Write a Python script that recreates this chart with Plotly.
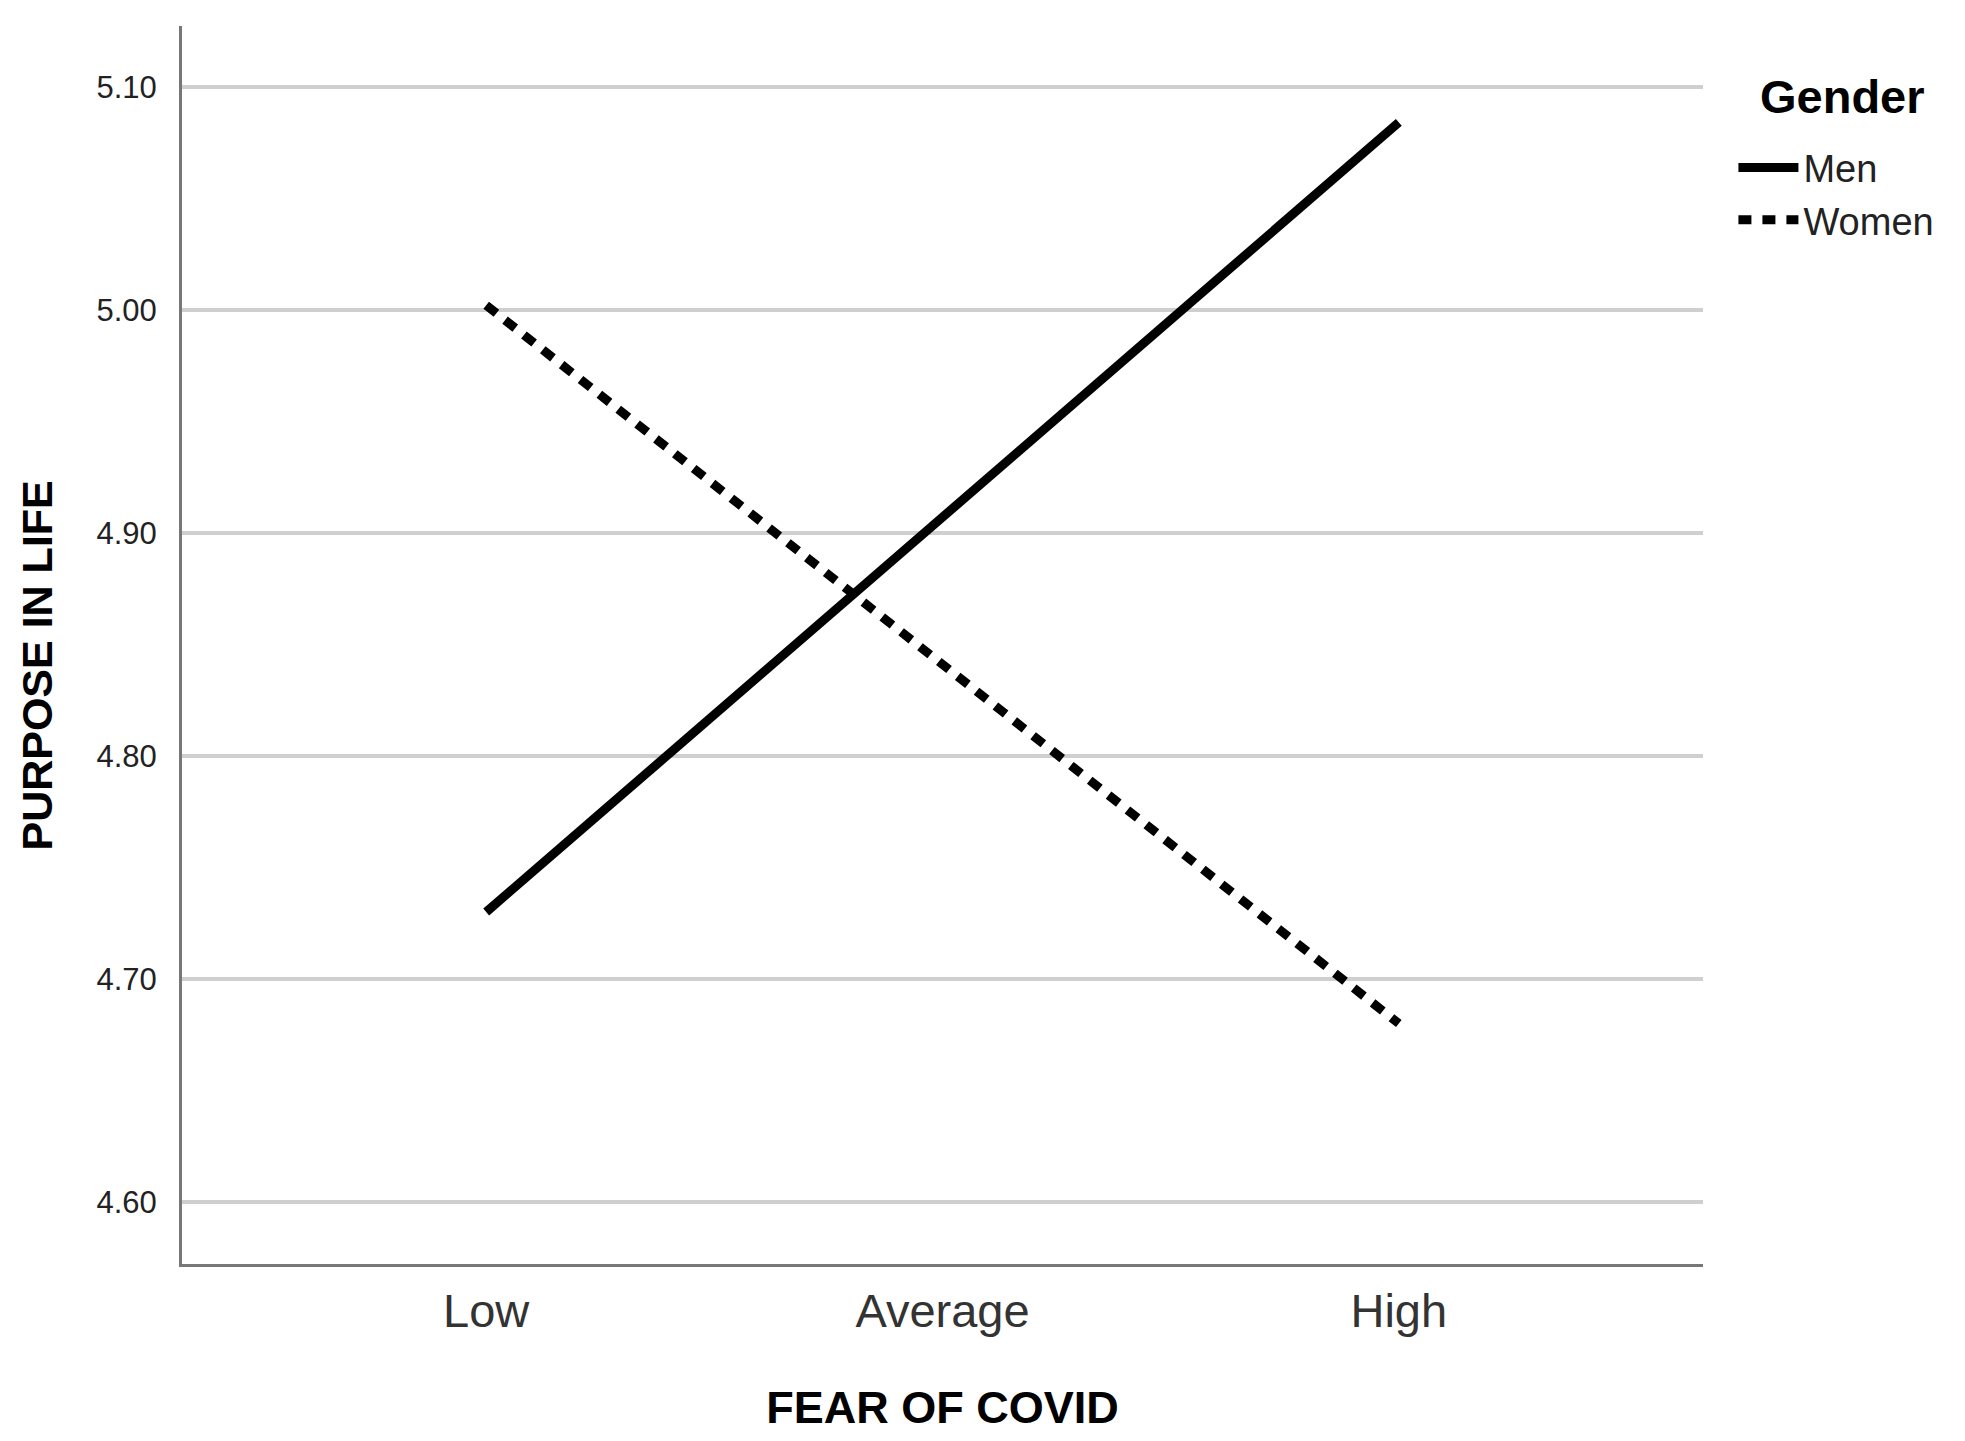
import plotly.graph_objects as go

fear_levels = ["Low", "Average", "High"]
men = [4.730, 4.907, 5.084]
women = [5.002, 4.841, 4.680]
y_ticks = [4.60, 4.70, 4.80, 4.90, 5.00, 5.10]

fig = go.Figure()
fig.add_trace(go.Scatter(
    x=[0, 1, 2], y=men, mode="lines", name="Men",
    line=dict(color="black", width=9)
))
fig.add_trace(go.Scatter(
    x=[0, 1, 2], y=women, mode="lines", name="Women",
    line=dict(color="black", width=9, dash="13px,11px")
))

# page body has an 8px margin, so margins are trimmed by that
fig.update_layout(
    width=1965, height=1441,
    margin=dict(l=174, r=270, t=18, b=185),
    plot_bgcolor="white", paper_bgcolor="white",
    font=dict(family="Liberation Sans, Arial, sans-serif", color="#222"),
    legend=dict(
        font=dict(size=38, color="#222"),
        x=1.02, xanchor="left", y=0.911, yanchor="top",
        bgcolor="rgba(0,0,0,0)", tracegroupgap=0, itemwidth=60,
    ),
    xaxis=dict(
        range=[-2 / 3, 2 + 2 / 3],
        tickmode="array", tickvals=[0, 1, 2], ticktext=fear_levels,
        tickfont=dict(size=47, color="#333"),
        ticks="", ticklabelstandoff=4,
        showgrid=False, zeroline=False,
        showline=True, linecolor="#777", linewidth=3,
        title=dict(text="<b>FEAR OF COVID</b>", font=dict(size=45, color="black"), standoff=56),
    ),
    yaxis=dict(
        range=[4.5722, 5.1272],
        tickmode="array", tickvals=y_ticks, ticktext=[f"{v:.2f}" for v in y_ticks],
        tickfont=dict(size=31, color="#222"),
        ticks="", ticklabelstandoff=16,
        showgrid=True, gridcolor="#cfcfcf", gridwidth=4,
        zeroline=False,
        showline=True, linecolor="#777", linewidth=3,
    ),
)

# y title and legend title as annotations for exact placement
fig.add_annotation(
    text="<b>PURPOSE IN LIFE</b>", textangle=-90,
    xref="paper", yref="paper", x=-0.095, y=0.483,
    xanchor="center", yanchor="middle", showarrow=False,
    font=dict(size=43, color="black"),
)
fig.add_annotation(
    text="<b>Gender</b>",
    xref="paper", yref="paper", x=1.0914, y=0.943,
    xanchor="center", yanchor="middle", showarrow=False,
    font=dict(size=47, color="black"),
)

fig.write_html("out.html")
